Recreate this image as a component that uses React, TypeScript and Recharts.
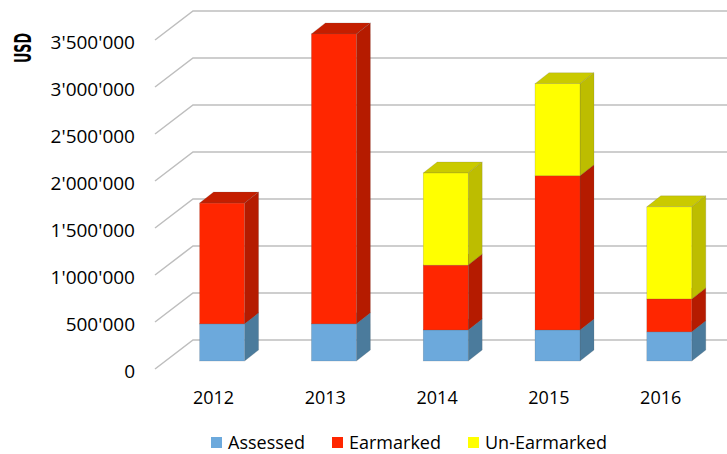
import { BarChart, Bar, XAxis, YAxis, CartesianGrid } from "recharts";

const years = ["2012", "2013", "2014", "2015", "2016"];
const assessed = [395000, 395000, 330000, 330000, 310000];
const earmarked = [1285000, 3085000, 690000, 1640000, 350000];
const unEarmarked = [0, 0, 980000, 980000, 980000];
const yTicks = [0, 500000, 1000000, 1500000, 2000000, 2500000, 3000000, 3500000];

const FONT = "'Open Sans', sans-serif";
const DX = 14;
const DY = 11;

const SERIES = [
  { key: "assessed", name: "Assessed", front: "#6CA9DC", side: "#4B7B9C", top: "#5A8EB8" },
  { key: "earmarked", name: "Earmarked", front: "#FF2600", side: "#B51B00", top: "#C41E00" },
  { key: "unEarmarked", name: "Un-Earmarked", front: "#FFFF00", side: "#BDBD00", top: "#CACA00" },
];

const data = years.map((year, i) => ({
  year,
  assessed: assessed[i],
  earmarked: earmarked[i],
  unEarmarked: unEarmarked[i],
}));

const fmt = (v: number) => String(v).replace(/\B(?=(\d{3})+(?!\d))/g, "'");

function makeShape(s: (typeof SERIES)[number]) {
  return (props: any) => {
    const { x, y, width, height } = props;
    if (!height || height <= 0) return <g />;
    const r = x + width;
    const b = y + height;
    const edge = "rgba(90,90,90,0.35)";
    return (
      <g>
        <polygon
          points={`${x},${y} ${x + DX},${y - DY} ${r + DX},${y - DY} ${r},${y}`}
          fill={s.top}
          stroke={edge}
          strokeWidth={0.5}
        />
        <polygon
          points={`${r},${b} ${r + DX},${b - DY} ${r + DX},${y - DY} ${r},${y}`}
          fill={s.side}
          stroke={edge}
          strokeWidth={0.5}
        />
        <rect x={x} y={y} width={width} height={height} fill={s.front} stroke={edge} strokeWidth={0.5} />
      </g>
    );
  };
}

// back-wall gridline plus the diagonal floor stub on the left
const gridLine = (props: any) => {
  const { y1, index } = props;
  return (
    <g key={`g-${index}`}>
      <polyline
        points={`155,${y1 + 8} 193,${y1 - 21} 727,${y1 - 21}`}
        fill="none"
        stroke="#BEBEBE"
        strokeWidth={1.5}
      />
    </g>
  );
};

const YTick = (props: any) => {
  const { y, payload } = props;
  return (
    <text x={135} y={y + 10} dy="0.35em" textAnchor="end" fontFamily={FONT} fontSize={19} fill="#000">
      {fmt(payload.value)}
    </text>
  );
};

const XTick = (props: any) => {
  const { x, payload } = props;
  return (
    <text x={x - 9} y={404} textAnchor="middle" fontFamily={FONT} fontSize={18} fill="#000">
      {payload.value}
    </text>
  );
};

export default function App() {
  return (
    <div style={{ position: "absolute", left: 0, top: 0, width: 727, height: 454, background: "#fff" }}>
      <BarChart
        width={727}
        height={454}
        data={data}
        barSize={45}
        margin={{ top: 32, right: 1.4, left: 16.6, bottom: 63 }}
      >
        <CartesianGrid vertical={false} horizontal={gridLine} />
        <YAxis
          width={150}
          domain={[0, 3500000]}
          ticks={yTicks}
          axisLine={false}
          tickLine={false}
          tick={<YTick />}
        />
        <XAxis dataKey="year" height={30} axisLine={false} tickLine={false} tick={<XTick />} />
        {SERIES.map((s) => (
          <Bar
            key={s.key}
            dataKey={s.key}
            name={s.name}
            stackId="a"
            isAnimationActive={false}
            shape={makeShape(s)}
          />
        ))}
      </BarChart>
      <svg style={{ position: "absolute", left: 0, top: 0 }} width={60} height={100}>
        <text
          transform="translate(31,48) rotate(-90)"
          textAnchor="middle"
          fontFamily="'DejaVu Sans Condensed', 'DejaVu Sans', sans-serif"
          fontWeight="bold"
          fontSize={23}
          textLength={30}
          lengthAdjust="spacingAndGlyphs"
          fill="#000"
        >
          USD
        </text>
      </svg>
      <div
        style={{
          position: "absolute",
          left: 0,
          top: 430,
          width: 727,
          height: 24,
          fontFamily: FONT,
          fontSize: 18,
        }}
      >
        {SERIES.map((s, i) => (
          <div
            key={s.key}
            style={{
              position: "absolute",
              left: [211, 332, 468][i],
              top: 0,
              display: "flex",
              alignItems: "center",
              whiteSpace: "nowrap",
              lineHeight: "24px",
            }}
          >
            <span style={{ width: 11, height: 11, background: s.front, marginRight: 6, display: "inline-block" }} />
            <span>{s.name}</span>
          </div>
        ))}
      </div>
    </div>
  );
}
